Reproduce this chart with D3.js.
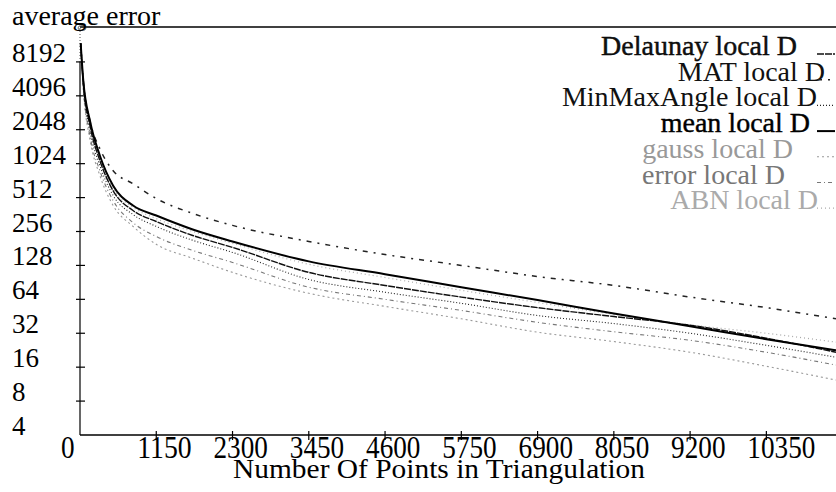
<!DOCTYPE html>
<html>
<meta charset="utf-8">
<head>
  <script src="https://d3js.org/d3.v7.min.js"></script>
  <style>
  body { margin: 0; background: #fff; }
  </style>
</head>
<body>
<svg id="chart" width="836" height="492" font-family="Liberation Serif, Times New Roman, serif"></svg>
<script>

// sample positions (number of points) and average error per method
var xPoints   = [10, 50, 150, 300, 500, 800, 1150, 1700, 2300, 3450, 4600, 5750, 6900, 8050, 9200, 10350, 11400]
var delaunay  = [12000, 5330, 2226, 1090, 588, 393, 314, 236, 185, 111, 85, 67, 54, 45, 37.7, 28.9, 21.7]
var mat       = [12000, 5557, 2456, 1389, 886, 680, 502, 370, 290, 209, 160, 128, 102, 85, 67, 54, 43]
var minMax    = [12000, 5128, 2006, 983, 534, 362, 284, 214, 167, 96, 74, 59, 46, 39, 32, 25, 19.6]
var mean      = [12000, 5560, 2460, 1205, 653, 435, 355, 267, 209, 139, 107, 82, 63, 48, 37, 28.3, 22.6]
var gauss     = [12000, 4650, 1680, 803, 435, 284, 197, 148, 111, 72.4, 55.4, 43, 32.7, 27, 21.7, 16.3, 12.3]
var errorD    = [12000, 4850, 1808, 886, 481, 307, 231, 174, 136, 82, 64, 51, 40, 33, 27.7, 21.7, 16.7]
var abn       = [12000, 5330, 2370, 1136, 613, 419, 333, 256, 201, 131, 100, 77, 60, 47, 38, 32, 26.7]

var names = ["Delaunay local D", "MAT local D", "MinMaxAngle local D", "mean local D",
             "gauss local D", "error local D", "ABN local D"]
var values = [delaunay, mat, minMax, mean, gauss, errorD, abn]

var yTicks = [8192, 4096, 2048, 1024, 512, 256, 128, 64, 32, 16, 8, 4]
var xTicks = [0, 1150, 2300, 3450, 4600, 5750, 6900, 8050, 9200, 10350]

// line looks, same order as names
var styles = [
  {color: "#111", width: 1.4, dash: "7,1"},
  {color: "#222", width: 1.5, dash: "5,6,2,6"},
  {color: "#222", width: 1.1, dash: "1,2"},
  {color: "#000", width: 2,   dash: null},
  {color: "#999", width: 1.1, dash: "2,3"},
  {color: "#777", width: 1.1, dash: "4,3,1,3"},
  {color: "#aaa", width: 1.2, dash: "1,3"}
]
var legendEnd = [797, 825, 817, 810, 793, 785, 818]

var svg = d3.select("#chart")

var x = d3.scaleLinear().domain([0, 11400]).range([80, 836])
var y = d3.scaleLog().base(2).domain([4, 16384]).range([435, 28])

/* frame: top line, y axis, x axis */
svg.append("line").attr("x1", 80).attr("x2", 836).attr("y1", 27).attr("y2", 27)
  .attr("stroke", "#000").attr("stroke-width", 1.3)
svg.append("line").attr("x1", 80).attr("x2", 80).attr("y1", y(8192)).attr("y2", 435)
  .attr("stroke", "#000").attr("stroke-width", 1.2)
svg.append("line").attr("x1", 80).attr("x2", 80).attr("y1", 28).attr("y2", y(8192))
  .attr("stroke", "#555").attr("stroke-width", 1).attr("stroke-dasharray", "1,2")
svg.append("ellipse").attr("cx", 82).attr("cy", 28).attr("rx", 4).attr("ry", 2.5)
  .attr("fill", "none").attr("stroke", "#444").attr("stroke-width", 0.8)
svg.append("line").attr("x1", 80).attr("x2", 836).attr("y1", 435).attr("y2", 435)
  .attr("stroke", "#000").attr("stroke-width", 1.3)

// y ticks + labels (labels left aligned, baseline on the tick)
yTicks.forEach(function(t){
  if (t > 4) {
    svg.append("line").attr("x1", 76).attr("x2", 85).attr("y1", y(t)).attr("y2", y(t))
      .attr("stroke", "#000").attr("stroke-width", 1.2)
  }
  svg.append("text").attr("x", 12).attr("y", y(t))
    .attr("font-size", 27).attr("fill", "#000").text(t)
})

// x ticks + condensed labels
xTicks.forEach(function(t){
  if (t > 0) {
    svg.append("line").attr("x1", x(t)).attr("x2", x(t)).attr("y1", 431).attr("y2", 440)
      .attr("stroke", "#000").attr("stroke-width", 1.2)
  }
  var s = String(t)
  svg.append("text").attr("x", x(t) - 19).attr("y", 458)
    .attr("font-size", 32).attr("fill", "#000")
    .attr("textLength", s.length * 13.6).attr("lengthAdjust", "spacingAndGlyphs")
    .text(s)
})

svg.append("text").attr("x", 12).attr("y", 25).attr("font-size", 28).text("average error")
svg.append("text").attr("x", 233).attr("y", 478).attr("font-size", 28)
  .attr("textLength", 412).attr("lengthAdjust", "spacingAndGlyphs")
  .text("Number Of Points in Triangulation")

/* the curves */
var line = d3.line()
  .x(function(d){ return x(d[0]) })
  .y(function(d){ return y(d[1]) })
  .curve(d3.curveMonotoneX)

// draw light ones first so the dark lines sit on top
var order = [6, 4, 5, 2, 0, 1, 3]
order.forEach(function(i){
  var pts = xPoints.map(function(px, j){ return [px, values[i][j]] })
  svg.append("path").datum(pts)
    .attr("d", line)
    .attr("fill", "none")
    .attr("stroke", styles[i].color)
    .attr("stroke-width", styles[i].width)
    .attr("stroke-dasharray", styles[i].dash)
})

/* legend, top right */
names.forEach(function(n, i){
  var ly = 55 + i * 25.7
  var t = svg.append("text").attr("x", legendEnd[i]).attr("y", ly)
    .attr("text-anchor", "end").attr("font-size", 28)
    .attr("fill", styles[i].color == "#222" ? "#111" : styles[i].color)
    .text(n)
  if (i == 0 || i == 3) t.attr("stroke", "#000").attr("stroke-width", 0.4)
  svg.append("line").attr("x1", 817).attr("x2", 835).attr("y1", ly - 1).attr("y2", ly - 1)
    .attr("stroke", styles[i].color).attr("stroke-width", styles[i].width)
    .attr("stroke-dasharray", styles[i].dash)
})

</script>
</body>
</html>
